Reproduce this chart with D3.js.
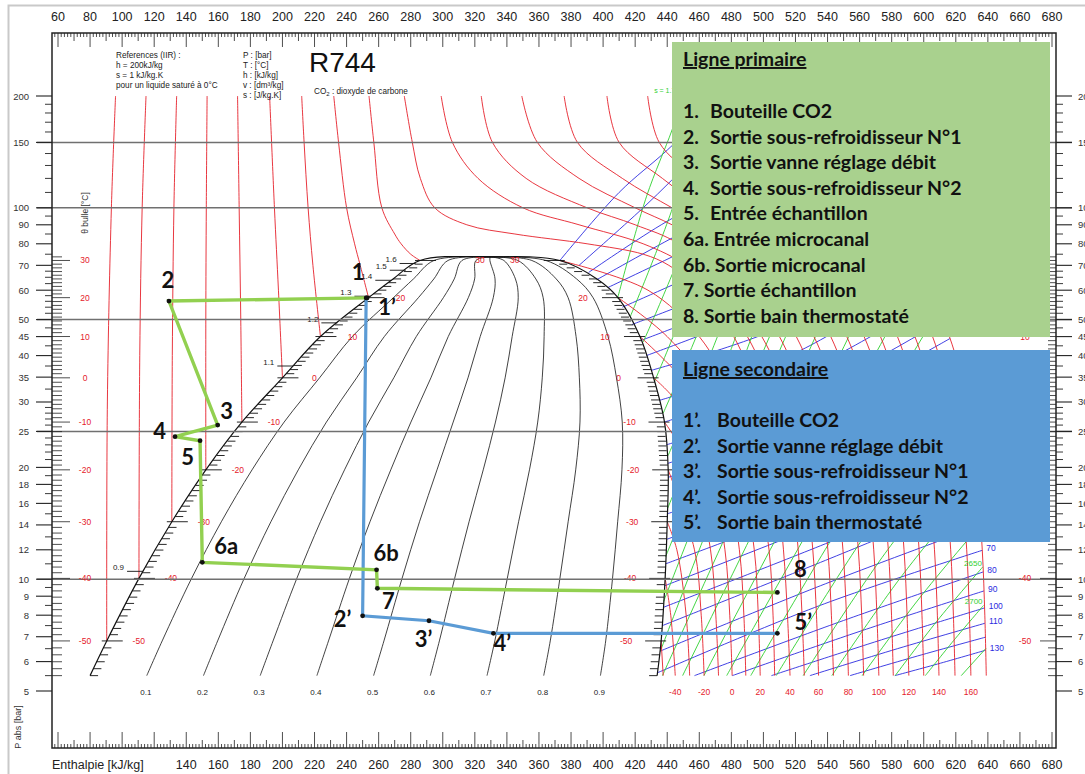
<!DOCTYPE html>
<html lang="fr">
<head>
<meta charset="UTF-8">
<title>R744</title>
<style>
  body { margin: 0; background: #fff; }
  svg text { font-family: "Liberation Sans", Arial, sans-serif; }
  .big { font-family: Lato, "Open Sans", sans-serif; font-weight: bold; }
</style>
</head>
<body>
<div id="viz"></div>
<script src="https://d3js.org/d3.v7.min.js"></script>
<script>
// saturation dome (T in °C, P in bar, h in kJ/kg)
const satT = [-55, -50, -40, -30, -20, -10, 0, 10, 20, 25, 30, 31]
const satP = [5.5, 6.82, 10.05, 14.28, 19.7, 26.49, 34.85, 45.02, 57.29, 64.34, 72.14, 73.77]
const hLiq = [80, 90.4, 110.5, 131, 152.2, 174.7, 200, 223.7, 253.7, 269, 285.8, 329.5]
const hVap = [433.7, 436.2, 438.7, 440, 440.6, 438.3, 431.5, 423, 409.3, 396.2, 373, 329.5]
const qualities = [0.1, 0.2, 0.3, 0.4, 0.5, 0.6, 0.7, 0.8, 0.9]

// axis ticks
const pMajor = [200, 150, 100, 90, 80, 70, 60, 50, 45, 40, 35, 30, 25, 20, 18, 16, 14, 12, 10, 9, 8, 7, 6, 5]
const pMinor = [190, 180, 170, 160, 140, 130, 120, 110, 95, 85, 75, 67.5, 65, 62.5, 58, 56, 54, 52,
  47.5, 42.5, 37.5, 32.5, 29, 28, 27, 26, 24, 23, 22, 21, 19, 17, 15, 13, 11,
  9.5, 8.5, 7.5, 6.5, 5.5]
const pGrid = [150, 100, 50, 25, 10]
const hLabels = d3.range(60, 681, 20)

// isotherms, liquid side (P bar, h kJ/kg)
const liqIso = [
  {T: -50, P: [6.82, 30, 100, 200], h: [90.4, 90.8, 93.3, 95.9]},
  {T: -40, P: [10.05, 40, 100, 200], h: [110.5, 111, 112.5, 114.9]},
  {T: -30, P: [14.28, 40, 100, 200], h: [131, 131.3, 132.3, 134]},
  {T: -20, P: [19.7, 50, 100, 200], h: [152.2, 152.2, 152.5, 153]},
  {T: -10, P: [26.49, 50, 100, 200], h: [174.7, 174, 173, 172]},
  {T: 0, P: [34.85, 60, 100, 200], h: [200, 197.5, 195, 192]},
  {T: 10, P: [45.02, 70, 100, 150, 200], h: [223.7, 219, 216, 213.5, 212]},
  {T: 20, P: [57.29, 70, 80, 100, 150, 200], h: [253.7, 248.5, 245, 240, 235, 232]},
  {T: 30, P: [72.14, 75, 80, 85, 100, 150, 200], h: [285.8, 280, 274, 270, 262, 257, 254]}
]
// isotherms, vapour side and near-critical
const coldIso = [
  {T: -50, P: [6.82, 5.5], h: [436.2, 437.5]},
  {T: -40, P: [10.05, 8, 5.5], h: [438.7, 442.2, 445]},
  {T: -30, P: [14.28, 12, 8, 5.5], h: [440, 446, 451.8, 454]},
  {T: -20, P: [19.7, 12, 8, 5.5], h: [440.6, 457, 461.2, 463]},
  {T: -10, P: [26.49, 20, 12, 8, 5.5], h: [438.3, 455, 467, 470.3, 472]},
  {T: 0, P: [34.85, 30, 20, 12, 8, 5.5], h: [431.5, 446, 466, 476, 479, 480.5]},
  {T: 10, P: [45.02, 30, 20, 12, 8, 5.5], h: [423, 461, 476, 485, 487.8, 489]},
  {T: 20, P: [57.29, 45, 30, 20, 12, 8, 5.5], h: [409.3, 440, 472, 485.5, 494.3, 496.8, 498]},
  {T: 30, P: [72.14, 60, 45, 30, 20, 12, 8, 5.5], h: [373, 428, 460, 483, 495, 503.5, 506, 507]},
  {T: 40, P: [200, 150, 120, 100, 90, 85, 80, 75, 70, 60, 45, 30, 20, 12, 8, 5.5],
    h: [276, 281, 286, 295, 315, 345, 390, 425, 441, 460, 481.5, 498, 507, 512.5, 515, 516.6]},
  {T: 50, P: [200, 150, 120, 100, 90, 80, 70, 60, 45, 30, 20, 12, 8, 5.5],
    h: [299, 306, 322, 350, 385, 425, 452, 469, 490, 507.5, 516.1, 521.7, 524.1, 525.5]}
]
// supercritical isotherms on common pressure levels
const hotP = [200, 150, 120, 100, 90, 80, 60, 45, 30, 20, 12, 8, 5.5]
const hotT = [60, 70, 80, 90, 100, 110, 120, 130, 140, 150, 160, 170]
const hotH = [
  [324, 331, 352, 390, 420, 447, 478, 499, 516.9, 525.3, 530.8, 533.1, 534.4],
  [349.3, 359, 385, 420, 443, 464, 490, 510, 526.7, 534.8, 540.2, 542.4, 543.7],
  [375.7, 384, 412, 443, 462, 479, 501, 520.5, 536.5, 544.4, 549.6, 551.8, 553],
  [402.4, 410, 437, 462, 478, 492, 513, 531.5, 546.5, 554.1, 559.2, 561.3, 562.5],
  [427.8, 435, 458, 479, 492, 505, 524.5, 542, 556.5, 563.9, 568.8, 570.8, 572],
  [452, 458, 478, 495, 506, 517, 535.5, 552, 566, 573.2, 577.9, 579.9, 581],
  [475, 480, 497, 510, 519, 529, 546.5, 562.8, 576.2, 583.1, 587.7, 589.6, 590.7],
  [496, 500, 514, 524, 532, 541, 557.5, 573, 586, 592.7, 597.1, 598.9, 600],
  [512, 518, 530, 538, 545, 553, 568.5, 583.6, 595.9, 602.4, 606.7, 608.5, 609.5],
  [528, 535, 545, 552, 558, 565, 580, 594.5, 606.4, 612.7, 616.8, 618.5, 619.5],
  [544, 550, 559, 565, 571, 577, 591.5, 605.5, 616.8, 622.8, 626.8, 628.5, 629.4],
  [560, 563, 572, 578, 583.5, 589, 602.6, 616, 626.9, 632.7, 636.5, 638.1, 639]
]

// isochores v [dm3/kg], points [h, P]
const isochores = [
  {v: 3, pts: [[373, 72.1], [410, 110], [440, 143], [475, 200]]},
  {v: 3.5, pts: [[385, 70], [425, 100], [460, 140], [500, 200]]},
  {v: 4, pts: [[391, 67], [440, 92], [500, 125], [565.5, 160]]},
  {v: 4.5, pts: [[396, 64], [450, 86], [510, 115], [567.5, 148]]},
  {v: 5, pts: [[403, 61], [460, 80], [515, 105], [570.5, 136]]},
  {v: 6, pts: [[412, 54], [470, 70], [525, 92], [575.5, 117]]},
  {v: 7, pts: [[418, 48.5], [480, 62], [530, 80], [579, 103]]},
  {v: 8, pts: [[424, 44], [485, 56], [535, 72], [584.5, 92]]},
  {v: 9, pts: [[427, 40], [490, 51], [540, 65], [589, 83]]},
  {v: 10, pts: [[430, 36.5], [511.5, 47.8], [593, 76]]},
  {v: 12, pts: [[435, 30.3], [517.5, 40.2], [600, 65]]},
  {v: 14, pts: [[438.3, 26.5], [522, 35.6], [606, 56.5]]},
  {v: 16, pts: [[439.5, 23], [526, 31.2], [612, 49.7]]},
  {v: 18, pts: [[440.3, 20.5], [528, 28], [616.5, 44.5]]},
  {v: 20, pts: [[440.5, 18.8], [530, 25.9], [619.9, 40.2]]},
  {v: 25, pts: [[440.1, 15], [532.5, 20.9], [625, 32.6]]},
  {v: 30, pts: [[439.6, 12.8], [534, 18.2], [628.5, 27.3]]},
  {v: 35, pts: [[439, 11], [535, 15.8], [630.8, 23.5]]},
  {v: 40, pts: [[438.4, 9.6], [535.4, 14], [632.4, 20.6]]},
  {v: 45, pts: [[437.6, 8.4], [535.5, 12.3], [633.5, 18.4]]},
  {v: 50, pts: [[437, 7.5], [535.6, 11.1], [634.3, 16.6]]},
  {v: 60, pts: [[435.5, 6.4], [535.5, 9.6], [635.6, 13.95]]},
  {v: 70, pts: [[434, 5.6], [535, 8.49], [636.5, 11.96]]},
  {v: 80, pts: [[457, 5.5], [547, 7.66], [637.1, 10.46]]},
  {v: 90, pts: [[480.6, 5.5], [559, 7.21], [637.6, 9.3]]},
  {v: 100, pts: [[505, 5.5], [571.5, 6.82], [638, 8.37]]},
  {v: 110, pts: [[529, 5.5], [583.6, 6.5], [638.2, 7.61]]},
  {v: 120, pts: [[554, 5.5], [596, 6.21], [638.5, 6.98]]},
  {v: 130, pts: [[582, 5.5], [610.4, 5.94], [638.7, 6.44]]}
]
const vLabelled = [70, 80, 90, 100, 110, 130]

// isentropes s [kJ/kg.K], points [h, P]
const isentropes = [
  {s: 1.70, pts: [[409, 57], [427, 107], [443, 162], [450, 200]]},
  {s: 1.75, pts: [[417, 51], [445, 105], [462, 200]]},
  {s: 1.80, pts: [[425, 43.5], [457, 95], [476, 200]]},
  {s: 1.85, pts: [[432, 34], [468, 85], [490, 200]]},
  {s: 1.90, pts: [[437.5, 28], [478, 75], [503, 200]]},
  {s: 1.95, pts: [[440.5, 21.5], [485, 65], [515, 200]]},
  {s: 2.00, pts: [[440.2, 15.5], [490, 55], [528, 200]]},
  {s: 2.05, pts: [[439, 11.5], [495, 48], [540, 200]]},
  {s: 2.10, pts: [[437.7, 8.7], [497.6, 38.9], [564, 174]]},
  {s: 2.15, pts: [[435.7, 6.4], [498, 31.1], [568, 151]]},
  {s: 2.20, pts: [[437, 5.5], [506.4, 25.26], [575, 116]]},
  {s: 2.25, pts: [[449.6, 5.5], [518.5, 22.19], [587, 89.5]]},
  {s: 2.30, pts: [[462.9, 5.5], [530, 19.44], [599, 68.7]]},
  {s: 2.35, pts: [[477.1, 5.5], [541.4, 17.03], [609, 52.7]]},
  {s: 2.40, pts: [[492.1, 5.5], [552, 14.92], [619.5, 40.5]]},
  {s: 2.45, pts: [[508, 5.5], [563, 13.06], [626.2, 31]]},
  {s: 2.50, pts: [[524.8, 5.5], [574, 11.44], [630.8, 23.8]]},
  {s: 2.55, pts: [[542.7, 5.5], [585, 10.03], [633.8, 18.3]]},
  {s: 2.60, pts: [[561.6, 5.5], [596.4, 8.79], [635.7, 14.05]]},
  {s: 2.65, pts: [[582.2, 5.5], [608.2, 7.71], [636.9, 10.8]]},
  {s: 2.70, pts: [[601, 5.5], [618.7, 6.84], [637.3, 8.5]]},
  {s: 2.75, pts: [[623.4, 5.5], [638.9, 6.52]]}
]
const sLabelled = [2.65, 2.70]

// entropy marks on the saturated liquid line
const sLiqText = ["0.9", "1.1", "1.2", "1.3", "1.4", "1.5", "1.6"]
const sLiqP = [10.5, 37.5, 49, 57.8, 63.8, 67.9, 70.8]

// measured cycle points
const primLabels = ["1", "2", "3", "4", "5", "6a", "6b", "7", "8"]
const primH = [252.8, 129.2, 159.6, 133, 148.6, 150, 258.7, 259.2, 508.7]
const primP = [57.2, 56.1, 26.0, 24.2, 23.6, 11.1, 10.6, 9.45, 9.21]
const secLabels = ["1’", "2’", "3’", "4’", "5’"]
const secH = [252.2, 250, 291.4, 331.6, 508.7]
const secP = [57.2, 7.97, 7.73, 7.15, 7.15]

const primItems = [["1.", "Bouteille CO2"], ["2.", "Sortie sous-refroidisseur N°1"],
  ["3.", "Sortie vanne réglage débit"], ["4.", "Sortie sous-refroidisseur N°2"],
  ["5.", "Entrée échantillon"], ["6a.", "Entrée microcanal"], ["6b.", "Sortie microcanal"],
  ["7.", "Sortie échantillon"], ["8.", "Sortie bain thermostaté"]]
const secItems = [["1’.", "Bouteille CO2"], ["2’.", "Sortie vanne réglage débit"],
  ["3’.", "Sortie sous-refroidisseur N°1"], ["4’.", "Sortie sous-refroidisseur N°2"],
  ["5’.", "Sortie bain thermostaté"]]

// ---------------------------------------------------------------
const W = 1085, H = 774
const fr = {left: 52, right: 1056, top: 33, bottom: 748}
const RED = "#e5202a", BLUE = "#2b2be0", GREEN = "#2fd02f"

const x = d3.scaleLinear().domain([60, 680]).range([58, 1052])
const y = d3.scaleLog().domain([5, 200]).range([691, 96])

const tLogP = d3.scaleLinear().domain(satT).range(satP.map(p => Math.log(p)))
const tHl = d3.scaleLinear().domain(satT).range(hLiq)
const tHv = d3.scaleLinear().domain(satT).range(hVap)
const pHl = d3.scaleLog().domain(satP).range(hLiq)
const psat = t => Math.exp(tLogP(t))

const line = d3.line().x(d => x(d[0])).y(d => y(d[1])).curve(d3.curveCatmullRom.alpha(0.5))
const pts = (P, h) => P.map((p, i) => [h[i], p])

const svg = d3.select("#viz").append("svg").attr("width", W).attr("height", H)
svg.append("rect").attr("width", W).attr("height", H).attr("fill", "#fff")
svg.append("rect").attr("x", 8.5).attr("y", 5.5).attr("width", 1100).attr("height", 800)
  .attr("fill", "none").attr("stroke", "#c9c9c9").attr("stroke-width", 2)

const mesh = svg.append("g").attr("fill", "none")

// isochores
mesh.selectAll("path.v").data(isochores).enter().append("path")
  .attr("d", d => line(d.pts)).attr("stroke", BLUE).attr("stroke-width", 0.9)
// isentropes
mesh.selectAll("path.s").data(isentropes).enter().append("path")
  .attr("d", d => line(d.pts)).attr("stroke", GREEN).attr("stroke-width", 0.9)

// isotherms
const allIso = liqIso.map(d => pts(d.P, d.h))
  .concat(coldIso.map(d => pts(d.P, d.h)))
  .concat(hotH.map(r => pts(hotP, r)))
mesh.selectAll("path.t").data(allIso).enter().append("path")
  .attr("d", d => line(d)).attr("stroke", RED).attr("stroke-width", 0.9)

// quality lines
mesh.selectAll("path.q").data(qualities).enter().append("path")
  .attr("d", q => line(satP.map((p, i) => [hLiq[i] + q * (hVap[i] - hLiq[i]), p])))
  .attr("stroke", "#111").attr("stroke-width", 0.8)

// dome
const dome = satP.map((p, i) => [hLiq[i], p])
  .concat(satP.map((p, i) => [hVap[i], p]).reverse().slice(1))
mesh.append("path").attr("d", line(dome)).attr("stroke", "#111").attr("stroke-width", 1.2)

// dome temperature hatches
const hatchT = d3.range(-55, 31)
mesh.selectAll("line.hl").data(hatchT).enter().append("line")
  .attr("x1", t => x(tHl(t)) - (t % 10 === 0 ? 5 : 0))
  .attr("x2", t => x(tHl(t)) + (t % 10 === 0 ? 16 : 8))
  .attr("y1", t => y(psat(t))).attr("y2", t => y(psat(t)))
  .attr("stroke", "#111").attr("stroke-width", 0.9)
mesh.selectAll("line.hv").data(hatchT).enter().append("line")
  .attr("x1", t => x(tHv(t)) + (t % 10 === 0 ? 5 : 0))
  .attr("x2", t => x(tHv(t)) - (t % 10 === 0 ? 16 : 8))
  .attr("y1", t => y(psat(t))).attr("y2", t => y(psat(t)))
  .attr("stroke", "#111").attr("stroke-width", 0.9)

// entropy marks on liquid line
sLiqText.forEach((s, i) => {
  const xx = x(pHl(sLiqP[i])), yy = y(sLiqP[i])
  mesh.append("line").attr("x1", xx - 16).attr("x2", xx).attr("y1", yy).attr("y2", yy)
    .attr("stroke", "#111").attr("stroke-width", 0.9)
  svg.append("text").attr("x", xx - 19).attr("y", yy - 1).attr("text-anchor", "end")
    .attr("font-size", 8).attr("fill", "#222").text(s)
})

// red temperature labels inside dome
const domeLabT = [-50, -40, -30, -20, -10, 0, 10, 20, 30]
domeLabT.forEach(t => {
  const yy = y(psat(t)) + 3
  svg.append("text").attr("x", x(tHl(t)) + (t === 30 ? 60 : 32)).attr("y", yy)
    .attr("text-anchor", "middle").attr("font-size", 8.5).attr("fill", RED).text(t)
  svg.append("text").attr("x", x(tHv(t)) - (t === 30 ? 45 : 35)).attr("y", yy)
    .attr("text-anchor", "middle").attr("font-size", 8.5).attr("fill", RED).text(t)
})

// quality labels
svg.selectAll("text.q").data(qualities).enter().append("text")
  .attr("x", q => x(hLiq[0] + q * (hVap[0] - hLiq[0])) - 1).attr("y", 695)
  .attr("text-anchor", "middle").attr("font-size", 8).attr("fill", "#222").text(q => q)

// vapour isotherm labels along the bottom
const bottomIso = coldIso.map(d => [d.T, d.h[d.h.length - 1]])
  .concat(hotT.map((t, i) => [t, hotH[i][hotH[i].length - 1]]))
  .filter(d => d[0] % 20 === 0 && d[0] >= -40 && d[0] <= 160)
svg.selectAll("text.tb").data(bottomIso).enter().append("text")
  .attr("x", d => x(d[1])).attr("y", 695).attr("text-anchor", "middle")
  .attr("font-size", 8.5).attr("fill", RED).text(d => d[0])

// isochore / isentrope labels at the right boundary
isochores.filter(d => vLabelled.includes(d.v)).forEach(d => {
  const e = d.pts[d.pts.length - 1]
  svg.append("text").attr("x", x(e[0]) + 4).attr("y", y(e[1]) + 1)
    .attr("font-size", 8.5).attr("fill", BLUE).text(d.v)
})
isentropes.filter(d => sLabelled.includes(d.s)).forEach(d => {
  const e = d.pts[d.pts.length - 1]
  svg.append("text").attr("x", x(e[0]) - 1).attr("y", y(e[1]) - 1).attr("text-anchor", "end")
    .attr("font-size", 8).attr("fill", GREEN).text(Math.round(d.s * 1000))
})
const sTop = isentropes[0].pts[isentropes[0].pts.length - 1]
svg.append("text").attr("x", x(sTop[0]) - 4).attr("y", y(sTop[1]) - 3).attr("text-anchor", "end")
  .attr("font-size", 7).attr("fill", GREEN).text("s = 1.70")

// grid lines
svg.selectAll("line.grid").data(pGrid).enter().append("line")
  .attr("x1", 37).attr("x2", 1072).attr("y1", p => y(p)).attr("y2", p => y(p))
  .attr("stroke", "#707070").attr("stroke-width", 1.5)

// frame
svg.append("rect").attr("x", fr.left).attr("y", fr.top)
  .attr("width", fr.right - fr.left).attr("height", fr.bottom - fr.top)
  .attr("fill", "none").attr("stroke", "#222").attr("stroke-width", 1.5)

// enthalpy ticks
const hTicks = d3.range(56, 686, 2).filter(h => x(h) > fr.left + 1 && x(h) < fr.right - 1)
const tickLen = h => h % 20 === 0 ? 14 : (h % 10 === 0 ? 8 : 4)
svg.selectAll("line.ht").data(hTicks).enter().append("line")
  .attr("x1", h => x(h)).attr("x2", h => x(h)).attr("y1", fr.top).attr("y2", h => fr.top + tickLen(h))
  .attr("stroke", "#222").attr("stroke-width", 0.8)
svg.selectAll("line.hb").data(hTicks).enter().append("line")
  .attr("x1", h => x(h)).attr("x2", h => x(h)).attr("y1", fr.bottom).attr("y2", h => fr.bottom - tickLen(h) - (h % 20 === 0 ? 2 : 0))
  .attr("stroke", "#222").attr("stroke-width", 0.8)
svg.selectAll("text.ht").data(hLabels).enter().append("text")
  .attr("x", h => x(h)).attr("y", 21).attr("text-anchor", "middle")
  .attr("font-size", 12.5).attr("fill", "#222").text(h => h)
svg.selectAll("text.hb").data(hLabels.filter(h => h >= 140)).enter().append("text")
  .attr("x", h => x(h)).attr("y", 769).attr("text-anchor", "middle")
  .attr("font-size", 12.5).attr("fill", "#222").text(h => h)
svg.append("text").attr("x", 52).attr("y", 769).attr("font-size", 12.5).attr("fill", "#222")
  .text("Enthalpie [kJ/kg]")

// pressure ticks, both sides
;[[fr.left, -1], [fr.right, 1]].forEach(([x0, dir]) => {
  svg.selectAll(null).data(pMajor).enter().append("line")
    .attr("x1", x0).attr("x2", x0 + dir * 16).attr("y1", p => y(p)).attr("y2", p => y(p))
    .attr("stroke", "#222").attr("stroke-width", 1.1)
  svg.selectAll(null).data(pMinor).enter().append("line")
    .attr("x1", x0).attr("x2", x0 + dir * 7).attr("y1", p => y(p)).attr("y2", p => y(p))
    .attr("stroke", "#222").attr("stroke-width", 0.9)
})
svg.selectAll("text.pl").data(pMajor).enter().append("text")
  .attr("x", 29).attr("y", p => y(p) + 3.5).attr("text-anchor", "end")
  .attr("font-size", 9.5).attr("fill", "#333").text(p => p)
svg.selectAll("text.pr").data(pMajor).enter().append("text")
  .attr("x", 1078).attr("y", p => y(p) + 3.5)
  .attr("font-size", 9.5).attr("fill", "#333").text(p => p)

// saturation temperature scales inside the frame
const thetaT = d3.range(-55, 32)
svg.selectAll("line.tl").data(thetaT).enter().append("line")
  .attr("x1", fr.left).attr("x2", t => fr.left + (t % 10 === 0 ? 18 : 10))
  .attr("y1", t => y(psat(t))).attr("y2", t => y(psat(t)))
  .attr("stroke", "#222").attr("stroke-width", 0.8)
svg.selectAll("line.tr").data(thetaT).enter().append("line")
  .attr("x1", fr.right).attr("x2", t => fr.right - (t % 10 === 0 ? 16 : 8))
  .attr("y1", t => y(psat(t))).attr("y2", t => y(psat(t)))
  .attr("stroke", "#222").attr("stroke-width", 0.8)
svg.selectAll("text.tl").data(domeLabT).enter().append("text")
  .attr("x", 85).attr("y", t => y(psat(t)) + 3).attr("text-anchor", "middle")
  .attr("font-size", 8.5).attr("fill", RED).text(t => t)
svg.selectAll("text.tr").data(domeLabT).enter().append("text")
  .attr("x", 1025).attr("y", t => y(psat(t)) + 3).attr("text-anchor", "middle")
  .attr("font-size", 8.5).attr("fill", RED).text(t => t)

svg.append("text").attr("transform", "translate(88,213) rotate(-90)").attr("text-anchor", "middle")
  .attr("font-size", 8.5).attr("fill", "#333").text("θ  bulle [°C]")
svg.append("text").attr("transform", "translate(21,727) rotate(-90)").attr("text-anchor", "middle")
  .attr("font-size", 9).attr("fill", "#333").text("P abs [bar]")

// header texts
const ref1 = ["References (IIR) :", "h = 200kJ/kg", "s = 1 kJ/kg.K", "pour un liquide saturé à 0°C"]
const ref2 = ["P : [bar]", "T : [°C]", "h : [kJ/kg]", "v : [dm³/kg]", "s : [J/kg.K]"]
ref1.forEach((t, i) => svg.append("text").attr("x", 116).attr("y", 58 + i * 10)
  .attr("font-size", 8.2).attr("fill", "#222").text(t))
ref2.forEach((t, i) => svg.append("text").attr("x", 243).attr("y", 58 + i * 10)
  .attr("font-size", 8.2).attr("fill", "#222").text(t))
svg.append("text").attr("x", 309).attr("y", 72).attr("font-size", 28).attr("fill", "#111").text("R744")
const co2 = svg.append("text").attr("x", 314).attr("y", 94).attr("font-size", 8.2).attr("fill", "#222")
co2.append("tspan").text("CO")
co2.append("tspan").attr("font-size", 6).attr("dy", 2).text("2")
co2.append("tspan").attr("dy", -2).text(" : dioxyde de carbone")

// cycle lines
const prim = primH.map((h, i) => [h, primP[i]])
const sec = secH.map((h, i) => [h, secP[i]])
const straight = d3.line().x(d => x(d[0])).y(d => y(d[1]))
svg.append("path").attr("d", straight(sec)).attr("fill", "none")
  .attr("stroke", "#5b9bd5").attr("stroke-width", 3.2)
svg.append("path").attr("d", straight(prim)).attr("fill", "none")
  .attr("stroke", "#92d050").attr("stroke-width", 3.4)
svg.selectAll("circle.c").data(prim.concat(sec)).enter().append("circle")
  .attr("cx", d => x(d[0])).attr("cy", d => y(d[1])).attr("r", 2.4).attr("fill", "#111")

const primDx = [-9, -1, 9, -15.5, -12.5, 24, 9.5, 11, 23]
const primDy = [-26, -22, -15, -6.5, 16, -17, -17, 12, -24]
const secDx = [21, -20, -5.5, 9, 26]
const secDy = [9, 3, 18, 9, -12]
primLabels.forEach((l, i) => svg.append("text").attr("class", "big")
  .attr("x", x(primH[i]) + primDx[i]).attr("y", y(primP[i]) + primDy[i])
  .attr("text-anchor", "middle").attr("dominant-baseline", "central")
  .attr("font-size", 22).attr("fill", "#111").text(l))
secLabels.forEach((l, i) => svg.append("text").attr("class", "big")
  .attr("x", x(secH[i]) + secDx[i]).attr("y", y(secP[i]) + secDy[i])
  .attr("text-anchor", "middle").attr("dominant-baseline", "central")
  .attr("font-size", 22).attr("fill", "#111").text(l))

// legend boxes
const FS = 19.5
const lg = svg.append("g")
lg.append("rect").attr("x", 672).attr("y", 42).attr("width", 378).attr("height", 295).attr("fill", "#a9d18e")
lg.append("rect").attr("x", 672).attr("y", 350).attr("width", 378).attr("height", 192).attr("fill", "#5b9bd5")
lg.append("text").attr("class", "big").attr("x", 683).attr("y", 66).attr("font-size", FS)
  .style("text-decoration", "underline").attr("fill", "#111").text("Ligne primaire")
primItems.forEach((it, i) => {
  const yy = 118 + i * 25.6
  if (i < 5) {
    lg.append("text").attr("class", "big").attr("x", 683).attr("y", yy).attr("font-size", FS).attr("fill", "#111").text(it[0])
    lg.append("text").attr("class", "big").attr("x", 710).attr("y", yy).attr("font-size", FS).attr("fill", "#111").text(it[1])
  } else {
    lg.append("text").attr("class", "big").attr("x", 683).attr("y", yy).attr("font-size", FS).attr("fill", "#111").text(it[0] + " " + it[1])
  }
})
lg.append("text").attr("class", "big").attr("x", 683).attr("y", 376).attr("font-size", FS)
  .style("text-decoration", "underline").attr("fill", "#111").text("Ligne secondaire")
secItems.forEach((it, i) => {
  const yy = 427 + i * 25.5
  lg.append("text").attr("class", "big").attr("x", 683).attr("y", yy).attr("font-size", FS).attr("fill", "#111").text(it[0])
  lg.append("text").attr("class", "big").attr("x", 717).attr("y", yy).attr("font-size", FS).attr("fill", "#111").text(it[1])
})
</script>
</body>
</html>
